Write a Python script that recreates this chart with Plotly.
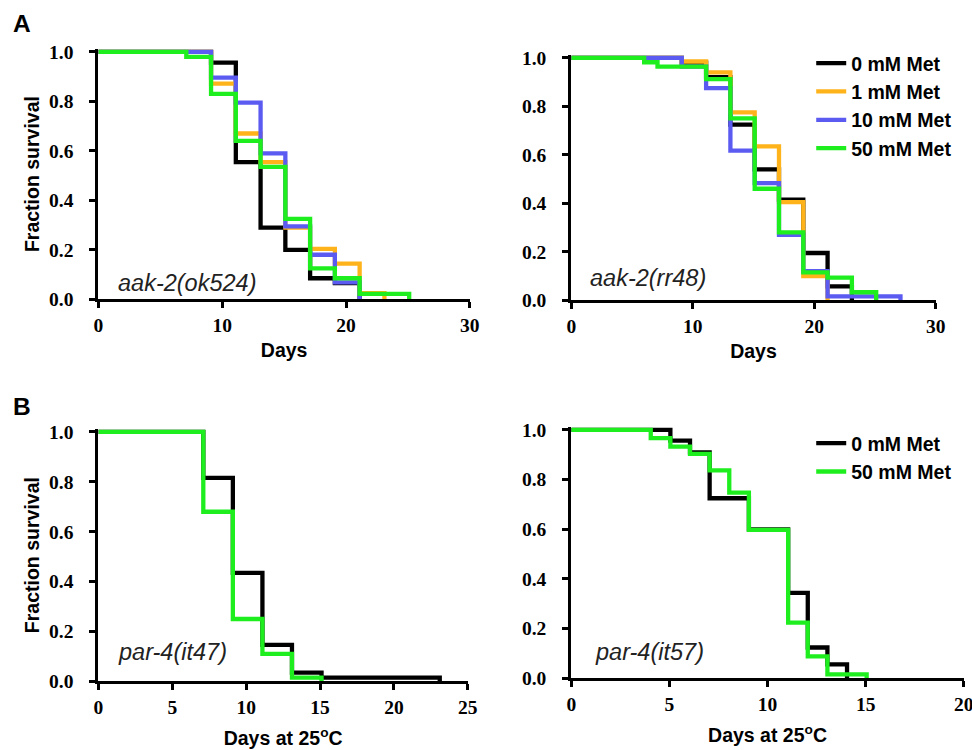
import plotly.graph_objects as go

# ---------------- data ----------------
tl_days_0 = [0, 9.1, 11.1, 13.1, 15.1, 17.1, 19.1, 21.1]
tl_surv_0 = [1.0, 0.957, 0.554, 0.29, 0.20, 0.085, 0.065, 0.0]
tl_days_1 = [0, 9.1, 11.1, 13.1, 15.1, 17.1, 19.1, 21.1, 23.1]
tl_surv_1 = [1.0, 0.872, 0.67, 0.554, 0.29, 0.204, 0.144, 0.025, 0.0]
tl_days_10 = [0, 9.1, 11.1, 13.1, 15.1, 17.1, 19.1, 21.1]
tl_surv_10 = [1.0, 0.896, 0.795, 0.59, 0.295, 0.18, 0.068, 0.0]
tl_days_50 = [0, 7.1, 9.1, 11.1, 13.1, 15.1, 17.1, 19.1, 21.1, 25.1]
tl_surv_50 = [1.0, 0.98, 0.83, 0.64, 0.535, 0.325, 0.125, 0.085, 0.022, 0.0]

tr_days_0 = [0, 9.1, 11.1, 13.1, 15.1, 17.1, 19.1, 21.1, 23.1]
tr_surv_0 = [1.0, 0.98, 0.92, 0.725, 0.54, 0.415, 0.195, 0.057, 0.0]
tr_days_1 = [0, 9.1, 11.1, 13.1, 15.1, 17.1, 19.1, 21.1]
tr_surv_1 = [1.0, 0.985, 0.94, 0.775, 0.635, 0.405, 0.10, 0.0]
tr_days_10 = [0, 9.1, 11.1, 13.1, 15.1, 17.1, 19.1, 21.1, 27.1]
tr_surv_10 = [1.0, 0.964, 0.875, 0.617, 0.483, 0.27, 0.12, 0.016, 0.0]
tr_days_50 = [0, 6.0, 7.1, 11.1, 13.1, 15.1, 17.1, 19.1, 21.1, 23.1, 25.1]
tr_surv_50 = [1.0, 0.982, 0.964, 0.912, 0.75, 0.46, 0.28, 0.115, 0.093, 0.033, 0.0]

bl_days_0 = [0, 7.1, 9.1, 11.1, 13.1, 15.1, 23.1]
bl_surv_0 = [1.0, 0.816, 0.435, 0.146, 0.035, 0.015, 0.0]
bl_days_50 = [0, 7.1, 9.1, 11.1, 13.1, 15.1]
bl_surv_50 = [1.0, 0.68, 0.25, 0.11, 0.015, 0.0]

br_days_0 = [0, 5.05, 6.05, 7.05, 9.05, 11.05, 12.05, 13.05, 14.05]
br_surv_0 = [1.0, 0.957, 0.91, 0.725, 0.60, 0.344, 0.124, 0.056, 0.0]
br_days_50 = [0, 4.05, 5.05, 6.05, 7.05, 8.05, 9.05, 11.05, 12.05, 13.05, 15.05]
br_surv_50 = [1.0, 0.967, 0.933, 0.904, 0.837, 0.748, 0.598, 0.224, 0.088, 0.016, 0.0]

series_names = ["0 mM Met", "1 mM Met", "10 mM Met", "50 mM Met"]
series_colors = ["#000000", "#FFB31A", "#5B5BF2", "#1EEE1E"]

panel_labels = ["aak-2(ok524)", "aak-2(rr48)", "par-4(it47)", "par-4(it57)"]
x_titles = ["Days", "Days", "Days at 25<sup>o</sup>C", "Days at 25<sup>o</sup>C"]
y_title = "Fraction survival"

# canvas and mapping of target picture pixels to layout fractions
W, H = 995, 768
SCX, SCY, OX, OY = 0.981, 0.979, 5.0, 6.0

def px_x(p):
    return ((p - OX) / SCX) / W

def px_y(p):
    return 1 - ((p - OY) / SCY) / H

fig = go.Figure()
LW = 4.3

def add(days, surv, name, color, xa, ya, legend=None, show=False):
    fig.add_trace(go.Scatter(
        x=days, y=surv, mode="lines", line=dict(shape="hv", color=color, width=LW),
        name=name, xaxis=xa, yaxis=ya, showlegend=show,
        legend=legend if legend else "legend", hoverinfo="skip"))

add(tl_days_0, tl_surv_0, series_names[0], series_colors[0], "x", "y")
add(tl_days_1, tl_surv_1, series_names[1], series_colors[1], "x", "y")
add(tl_days_10, tl_surv_10, series_names[2], series_colors[2], "x", "y")
add(tl_days_50, tl_surv_50, series_names[3], series_colors[3], "x", "y")
add(tr_days_0, tr_surv_0, series_names[0], series_colors[0], "x2", "y2", "legend", True)
add(tr_days_1, tr_surv_1, series_names[1], series_colors[1], "x2", "y2", "legend", True)
add(tr_days_10, tr_surv_10, series_names[2], series_colors[2], "x2", "y2", "legend", True)
add(tr_days_50, tr_surv_50, series_names[3], series_colors[3], "x2", "y2", "legend", True)
add(bl_days_0, bl_surv_0, series_names[0], series_colors[0], "x3", "y3")
add(bl_days_50, bl_surv_50, series_names[3], series_colors[3], "x3", "y3")
add(br_days_0, br_surv_0, series_names[0], series_colors[0], "x4", "y4", "legend2", True)
add(br_days_50, br_surv_50, series_names[3], series_colors[3], "x4", "y4", "legend2", True)

YMAX = 1.012

def ydom(y0px, y1px):
    top = y0px - (y0px - y1px) * YMAX
    return [px_y(y0px), px_y(top)]

tick_font = dict(family="Liberation Serif", size=19.5, color="black", weight="bold")
title_font = dict(family="Liberation Sans", size=19.5, color="black", weight="bold")

def xax(dom, anchor, rng, dtick, title, standoff):
    return dict(domain=dom, anchor=anchor, range=rng, dtick=dtick, tick0=0,
                showgrid=False, zeroline=False,
                showline=True, linecolor="black", linewidth=3, ticks="outside",
                ticklen=6, tickwidth=3, tickcolor="black", tickfont=tick_font,
                title=dict(text=title, font=title_font, standoff=standoff),
                fixedrange=True)

def yax(dom, anchor, title, standoff):
    return dict(domain=dom, range=[0, YMAX], dtick=0.2, tick0=0, tickformat=".1f",
                showgrid=False, zeroline=False, showline=True, linecolor="black",
                linewidth=3, ticks="outside", ticklen=6, tickwidth=3, tickcolor="black",
                tickfont=tick_font, anchor=anchor, ticklabelstandoff=12,
                title=dict(text=title, font=title_font, standoff=standoff),
                fixedrange=True)

legend_font = dict(family="Liberation Sans", size=19.5, color="black", weight="bold")

fig.update_layout(
    width=W, height=H, margin=dict(l=0, r=0, t=0, b=0),
    paper_bgcolor="white", plot_bgcolor="white",
    xaxis=xax([px_x(98), px_x(468)], "y", [0, 30], 10, x_titles[0], 9),
    yaxis=yax(ydom(299, 51), "x", y_title, 5),
    xaxis2=xax([px_x(569), px_x(932)], "y2", [0, 30], 10, x_titles[1], 9),
    yaxis2=yax(ydom(300, 57), "x2", "", 5),
    xaxis3=xax([px_x(98), px_x(466)], "y3", [0, 25], 5, x_titles[2], 15),
    yaxis3=yax(ydom(682, 432), "x3", y_title, 5),
    xaxis4=xax([px_x(569), px_x(960)], "y4", [0, 20], 5, x_titles[3], 15),
    yaxis4=yax(ydom(679, 430), "x4", "", 5),
    legend=dict(x=px_x(808), y=px_y(43), xanchor="left", yanchor="top",
                bgcolor="rgba(0,0,0,0)", font=legend_font, itemwidth=30),
    legend2=dict(x=px_x(808), y=px_y(424), xanchor="left", yanchor="top",
                 bgcolor="rgba(0,0,0,0)", font=legend_font, itemwidth=30),
)

label_pos = [(116, 283), (586, 278), (116, 653), (591, 653)]
for txt, (lx, ly) in zip(panel_labels, label_pos):
    fig.add_annotation(text=txt, x=px_x(lx), y=px_y(ly), xref="paper", yref="paper",
                       xanchor="left", yanchor="middle", showarrow=False,
                       font=dict(family="Liberation Sans", size=23.5, color="#222222", style="italic"))

for txt, (lx, ly) in zip(["A", "B"], [(22, 23), (22, 406)]):
    fig.add_annotation(text=txt, x=px_x(lx), y=px_y(ly), xref="paper", yref="paper",
                       xanchor="center", yanchor="middle", showarrow=False,
                       font=dict(family="Liberation Sans", size=24.5, color="black", weight="bold"))

fig.write_html("out.html", config={"displayModeBar": False},
               post_script="document.body.style.margin='0px';document.body.style.overflow='hidden';")
